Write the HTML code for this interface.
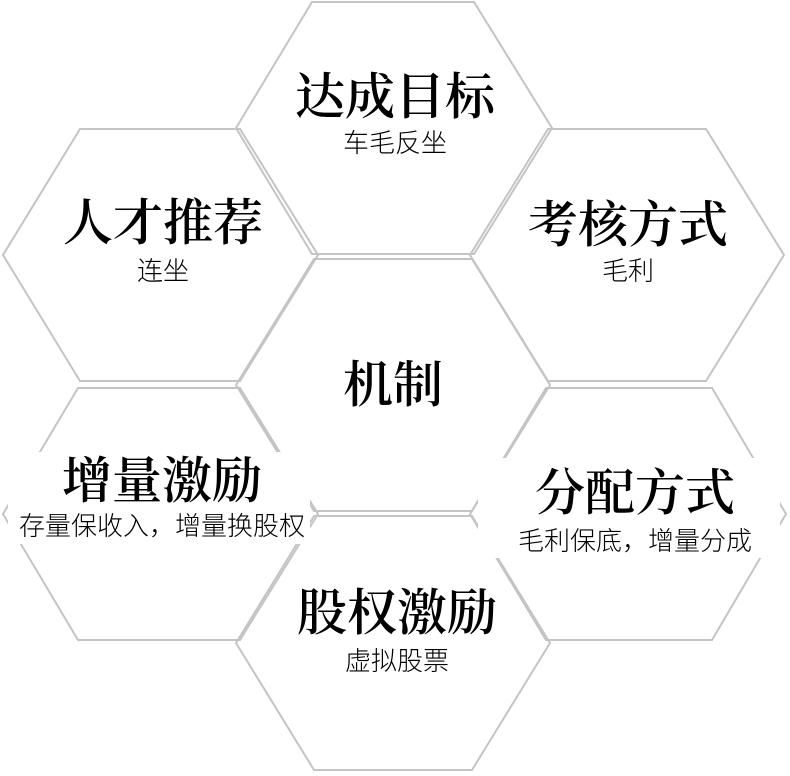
<!DOCTYPE html>
<html><head><meta charset="utf-8"><style>
html,body{margin:0;padding:0;background:#fff;}
svg{display:block;}
.t{font-family:"Liberation Serif","Noto Serif CJK SC",serif;font-size:50px;fill:#000;text-anchor:middle;font-weight:600;}
.s{font-family:"Liberation Sans","Noto Sans CJK SC",sans-serif;font-size:26px;fill:#000;text-anchor:middle;font-weight:300;}
polygon{fill:none;stroke:#c4c4c4;stroke-width:2;}
</style></head><body>
<svg width="790" height="776" viewBox="0 0 790 776" xmlns="http://www.w3.org/2000/svg">
<polygon points="312,2 474,2 552,128 474,254 312,254 236,128"/>
<polygon points="80,129 240,129 318,255 240,381 80,381 3,255"/>
<polygon points="548,129 706,129 784,255 706,381 548,381 470,255"/>
<polygon points="314,259 472,259 550,385 472,511 314,511 236,385"/>
<polygon points="78,388 240,388 318,514 240,640 78,640 3,514"/>
<polygon points="546,388 712,388 786,514 712,640 546,640 470,514"/>
<polygon points="314,516 472,516 550,643 472,770 314,770 236,643"/>
<rect x="8" y="452" width="302" height="92" fill="#fff"/>
<rect x="478" y="458" width="302" height="100" fill="#fff"/>
<text class="t" x="395" y="114">达成目标</text>
<text class="s" x="395" y="152">车毛反坐</text>
<text class="t" x="163" y="240">人才推荐</text>
<text class="s" x="163" y="280">连坐</text>
<text class="t" x="628" y="242">考核方式</text>
<text class="s" x="628" y="280">毛利</text>
<text class="t" x="393" y="402">机制</text>
<text class="t" x="162" y="498">增量激励</text>
<text class="s" x="162" y="535">存量保收入，增量换股权</text>
<text class="t" x="635" y="510">分配方式</text>
<text class="s" x="635" y="550">毛利保底，增量分成</text>
<text class="t" x="397" y="630">股权激励</text>
<text class="s" x="397" y="670">虚拟股票</text>
</svg>
</body></html>
